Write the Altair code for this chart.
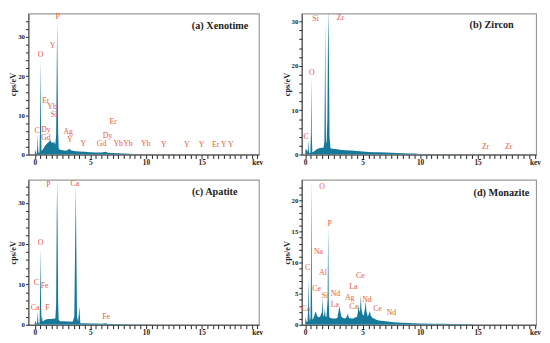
import altair as alt
import pandas as pd

SERIF = "Liberation Serif"
TEAL = "#17799a"
RED = "#ea5a40"

# ---------------- (a) Xenotime ----------------
A_E = [0.00, 0.03, 0.08, 0.12, 0.18, 0.24, 0.27, 0.31, 0.36, 0.42, 0.47, 0.52, 0.56, 0.60,
       0.70, 0.80, 0.90, 1.00, 1.10, 1.20, 1.30, 1.38, 1.45, 1.50, 1.58, 1.65, 1.72, 1.78,
       1.85, 1.92, 1.97, 2.01, 2.05, 2.10, 2.15, 2.25, 2.50, 2.80, 3.00, 3.12, 3.25, 3.50,
       4.00, 4.50, 5.00, 5.50, 6.00, 6.40, 6.55, 7.00, 7.50, 8.00, 8.50, 9.00, 9.50, 10.0,
       11.0, 12.0, 13.0]
A_CPS = [0.0, 1.2, 0.8, 0.3, 0.3, 2.5, 5.3, 1.0, 0.4, 0.5, 6.0, 24.6, 8.0, 1.0,
         1.2, 1.6, 2.2, 2.5, 2.8, 3.0, 3.4, 3.7, 3.4, 3.0, 3.2, 2.8, 3.4, 3.0,
         2.5, 5.0, 20.0, 34.2, 22.0, 6.0, 1.6, 1.2, 1.1, 1.0, 1.2, 1.5, 1.1, 0.9,
         0.8, 0.7, 0.6, 0.55, 0.5, 0.7, 0.45, 0.4, 0.35, 0.3, 0.22, 0.16, 0.1, 0.06,
         0.03, 0.01, 0.0]
A_LBL = ["P", "Y", "O", "Er", "Yb", "Si", "C", "Dy", "Gd", "Ag", "Y", "Y", "Gd", "Dy", "Er",
         "Yb", "Yb", "Yb", "Y", "Y", "Y", "Er Y Y"]
A_LX = [2.05, 1.59, 0.51, 0.97, 1.56, 1.73, 0.20, 1.00, 1.00, 3.00, 3.15, 4.37, 6.00, 6.54, 7.05,
        7.50, 8.38, 9.97, 11.6, 13.67, 15.0, 16.9]
A_LY = [35.0, 27.7, 25.3, 13.7, 12.2, 10.1, 6.1, 6.2, 4.3, 5.7, 3.7, 2.7, 2.6, 4.8, 8.4,
        2.7, 2.6, 2.6, 2.5, 2.5, 2.5, 2.4]

# ---------------- (b) Zircon ----------------
B_E = [0.00, 0.03, 0.08, 0.14, 0.20, 0.24, 0.28, 0.31, 0.36, 0.45, 0.50, 0.53, 0.57, 0.62,
       0.70, 0.80, 0.90, 1.00, 1.10, 1.20, 1.30, 1.40, 1.50, 1.60, 1.67, 1.71, 1.74, 1.77,
       1.81, 1.86, 1.93, 1.98, 2.02, 2.07, 2.12, 2.20, 2.40, 2.80, 3.00, 3.50, 4.00, 4.50,
       5.00, 5.50, 6.00, 6.50, 7.00, 7.50, 8.00, 8.50, 9.00, 9.50, 10.0, 11.0, 12.0, 13.0,
       14.0, 15.0, 16.0]
B_CPS = [0.0, 1.3, 1.0, 1.2, 0.4, 1.5, 3.2, 1.0, 0.3, 0.4, 5.0, 17.8, 5.0, 0.5,
         0.6, 0.8, 1.0, 1.2, 1.3, 1.4, 1.5, 1.55, 1.55, 1.6, 3.0, 15.0, 29.9, 18.0,
         3.0, 2.5, 8.0, 25.0, 33.0, 20.0, 4.0, 1.4, 1.3, 1.2, 1.1, 1.0, 0.9, 0.8,
         0.7, 0.6, 0.55, 0.5, 0.45, 0.4, 0.35, 0.3, 0.25, 0.25, 0.15, 0.1, 0.08, 0.05,
         0.04, 0.02, 0.0]
B_LBL = ["C", "O", "Si", "Zr", "Zr", "Zr"]
B_LX = [0.08, 0.57, 0.90, 3.07, 15.7, 17.7]
B_LY = [3.9, 18.4, 30.5, 30.7, 1.65, 1.7]

# ---------------- (c) Apatite ----------------
C_E = [0.00, 0.03, 0.08, 0.13, 0.20, 0.24, 0.27, 0.31, 0.36, 0.43, 0.47, 0.52, 0.56, 0.60,
       0.65, 0.70, 0.80, 0.90, 1.00, 1.20, 1.40, 1.60, 1.75, 1.85, 1.92, 1.97, 2.01, 2.05,
       2.10, 2.15, 2.30, 2.60, 3.00, 3.40, 3.55, 3.63, 3.69, 3.74, 3.80, 3.90, 3.97, 4.01,
       4.05, 4.10, 4.50, 5.00, 5.50, 6.00, 6.40, 6.60, 7.00, 8.00, 9.00, 10.0, 11.0, 12.0]
C_CPS = [0.0, 1.0, 0.8, 0.3, 0.3, 2.0, 3.3, 0.8, 0.3, 0.4, 6.0, 19.0, 6.0, 1.0,
         2.4, 0.8, 1.0, 1.2, 1.3, 1.4, 1.4, 1.5, 1.5, 1.6, 5.0, 25.0, 36.0, 25.0,
         6.0, 1.2, 0.9, 0.85, 0.8, 0.75, 2.0, 20.0, 34.3, 18.0, 2.0, 0.8, 3.0, 4.5,
         2.5, 0.4, 0.35, 0.3, 0.3, 0.25, 0.4, 0.2, 0.18, 0.12, 0.08, 0.05, 0.02, 0.0]
C_LBL = ["P", "Ca", "O", "C", "Fe", "Ca", "F", "Fe"]
C_LX = [1.22, 3.60, 0.51, 0.14, 0.88, 0.03, 1.14, 6.42]
C_LY = [34.4, 34.6, 20.1, 10.4, 9.6, 4.0, 4.0, 1.8]

# ---------------- (d) Monazite ----------------
D_E = [0.00, 0.03, 0.08, 0.13, 0.20, 0.26, 0.30, 0.34, 0.40, 0.46, 0.50, 0.54, 0.58, 0.62,
       0.70, 0.80, 0.86, 0.92, 1.00, 1.10, 1.20, 1.30, 1.45, 1.50, 1.55, 1.62, 1.68, 1.72,
       1.76, 1.85, 1.95, 2.00, 2.05, 2.10, 2.20, 2.40, 2.60, 2.80, 2.93, 2.98, 3.05, 3.15,
       3.30, 3.50, 3.65, 3.72, 3.80, 4.00, 4.20, 4.35, 4.50, 4.58, 4.64, 4.70, 4.78, 4.84,
       4.90, 5.00, 5.10, 5.20, 5.27, 5.33, 5.45, 5.55, 5.63, 5.70, 5.85, 6.00, 6.10, 6.20,
       6.40, 6.60, 7.00, 7.50, 8.00, 8.50, 9.00, 9.50, 10.0, 11.0, 12.0, 13.0, 14.0, 14.5,
       14.7]
D_CPS = [0.0, 1.3, 0.8, 0.5, 0.4, 3.0, 7.5, 2.0, 0.6, 1.0, 8.0, 23.5, 6.0, 0.8,
         1.0, 1.5, 2.0, 2.1, 1.6, 1.3, 1.2, 1.3, 2.0, 4.4, 1.8, 1.2, 2.0, 2.6,
         1.4, 1.2, 4.0, 15.9, 4.0, 1.2, 1.1, 1.0, 1.0, 1.1, 2.5, 3.0, 2.2, 1.3,
         1.1, 1.0, 1.4, 1.8, 1.1, 1.0, 1.0, 1.2, 1.2, 2.0, 3.3, 2.0, 2.5, 4.7,
         2.4, 1.6, 1.5, 2.6, 3.8, 2.2, 1.3, 1.8, 2.2, 1.5, 1.1, 1.0, 0.9, 0.8,
         0.7, 0.65, 0.55, 0.45, 0.38, 0.32, 0.28, 0.25, 0.22, 0.18, 0.15, 0.12, 0.1, 0.08,
         0.0]
D_LBL = ["O", "P", "Na", "C", "Al", "Ce", "Si", "Nd", "La", "Ca", "Ce", "La", "Ag", "Nd",
         "Ca", "Ce", "Nd"]
D_LX = [1.47, 2.12, 1.16, 0.20, 1.55, 0.99, 1.72, 2.63, 2.57, 0.06, 4.80, 4.18, 3.87, 5.37,
        4.21, 6.30, 7.51]
D_LY = [22.1, 16.2, 11.7, 9.2, 8.3, 5.8, 4.6, 4.9, 3.1, 2.6, 7.9, 6.0, 4.3, 4.0,
        2.9, 2.55, 1.9]

X_TICKS = [i * 0.5 for i in range(41)]


def panel(E, CPS, LBL, LX, LY, title, xdom, ydom, ytick_step, ylab_step, w, h, tx, ty):
    spec = pd.DataFrame({"E": E, "cps": CPS})
    lab = pd.DataFrame({"x": LX, "y": LY, "t": LBL})
    xs = alt.Scale(domain=xdom, nice=False, zero=False)
    ys = alt.Scale(domain=ydom, nice=False, zero=False)
    yticks = []
    v = 0
    while v <= ydom[1] - 1.2:
        yticks.append(v)
        v += ytick_step
    xaxis = alt.Axis(
        values=X_TICKS,
        labelExpr="datum.value == 20 ? 'kev' : (datum.value % 5 == 0 ? '' + datum.value : '')",
        title=None, grid=False, tickSize=4, tickWidth=1, labelFont=SERIF, labelFontWeight="bold",
        labelFontSize=7.5, labelPadding=0, labelOverlap=False, labelFlush=False,
        domainColor="#444", tickColor="#222", labelColor="#222")
    yaxis = alt.Axis(
        values=yticks,
        labelExpr=f"datum.value % {ylab_step} == 0 ? '' + datum.value : ''",
        title="cps/eV", titleFont=SERIF, titleFontWeight="bold", titleFontSize=8.5,
        titlePadding=0, titleColor="#222",
        grid=False, tickSize=3, tickWidth=1, labelFont=SERIF, labelFontWeight="bold",
        labelFontSize=7, labelPadding=1, labelOverlap=False, labelFlush=False,
        domainColor="#444", tickColor="#222", labelColor="#222")
    area = alt.Chart(spec).mark_area(color=TEAL, clip=True, interpolate="linear").encode(
        x=alt.X("E:Q", scale=xs, axis=xaxis),
        y=alt.Y("cps:Q", scale=ys, axis=yaxis))
    text = alt.Chart(lab).mark_text(font=SERIF, fontSize=8, color=RED).encode(
        x=alt.X("x:Q", scale=xs, axis=xaxis),
        y=alt.Y("y:Q", scale=ys, axis=yaxis),
        text="t:N")
    ttl = alt.Chart(pd.DataFrame({"t": [title]})).mark_text(
        font=SERIF, fontSize=10.5, fontWeight="bold", align="right", baseline="middle",
        color="#222").encode(x=alt.value(tx), y=alt.value(ty), text="t:N")
    return alt.layer(area, text, ttl).properties(width=w, height=h)


WL, WR = 237, 241
H1, H2 = 145, 149

pa = panel(A_E, A_CPS, A_LBL, A_LX, A_LY, "(a) Xenotime", [-0.57, 20.15], [0, 36], 2, 10,
           WL, H1, WL - 11, 13)
pb = panel(B_E, B_CPS, B_LBL, B_LX, B_LY, "(b) Zircon", [-0.3, 20.1], [0, 31.8], 2, 10,
           WR, H1, WR - 23, 12)
pc = panel(C_E, C_CPS, C_LBL, C_LX, C_LY, "(c) Apatite", [-0.57, 20.15], [0, 35.7], 2, 10,
           WL, H2, WL - 22, 13)
pd_ = panel(D_E, D_CPS, D_LBL, D_LX, D_LY, "(d) Monazite", [-0.3, 20.1], [0, 23.3], 1, 5,
            WR, H2, WR - 7, 14)

chart = alt.concat(pa, pb, pc, pd_, columns=2, align="each",
                   spacing={"row": 12, "column": 18}).properties(
    padding={"left": 0, "top": 0, "right": 0, "bottom": 0}, background="white"
).configure_view(stroke="#9a9a9a", strokeWidth=1.2)

chart.save("out.html", embed_options={"renderer": "svg", "actions": False})
